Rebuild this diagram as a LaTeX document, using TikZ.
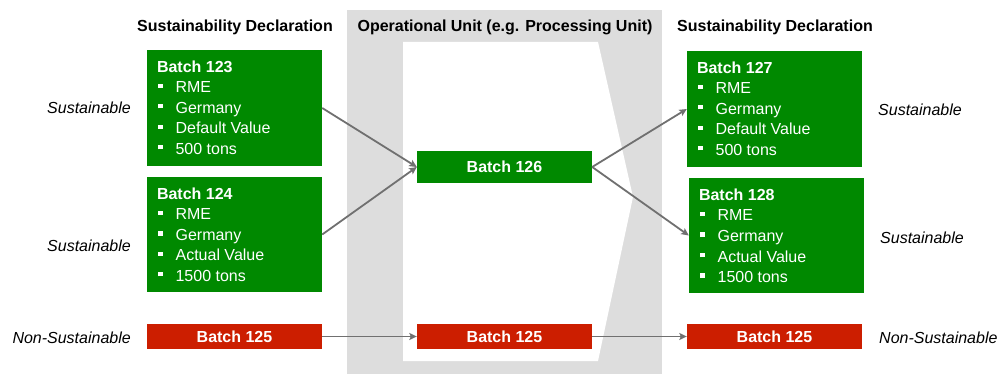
\documentclass[tikz,border=0pt]{standalone}
\usepackage{fontspec}
\setmainfont{Liberation Sans}
\usetikzlibrary{arrows.meta,calc}
\definecolor{bgreen}{RGB}{0,137,0}
\definecolor{bred}{RGB}{204,30,0}
\definecolor{panel}{RGB}{221,221,221}
\definecolor{arr}{RGB}{112,112,112}
\newcommand{\bul}[1]{\hspace*{1.3pt}\rule[5pt]{4.3pt}{4.3pt}\hspace*{13pt}#1}
\tikzset{
 gbox/.style={fill=bgreen, minimum width=175pt, inner sep=0pt, draw=none},
 cbox/.style={minimum width=175pt, inner sep=0pt, text=white, font=\bfseries\fontsize{16}{19}\selectfont},
 head/.style={font=\bfseries\fontsize{16}{19}\selectfont, anchor=base, inner sep=0pt},
 lab/.style={font=\itshape\fontsize{16}{19}\selectfont, inner sep=0pt},
 boxtext/.style={anchor=base west, inner sep=0pt, text=white, font=\fontsize{16}{20.5}\selectfont},
 flow/.style={draw=arr, line width=1.8pt, -{Stealth[length=7.5pt,width=7pt,inset=1.5pt]}}
}
\begin{document}
\begin{tikzpicture}[x=1pt,y=-1pt]
\useasboundingbox (0,0) rectangle (998,374);
% operational unit panel
\fill[panel] (347,10) rectangle (662,374);
\fill[white] (403,42) -- (598,42) -- (633,197) -- (598,361) -- (403,361) -- cycle;
% headings
\node[head] (hl) at (235,31.8) {Sustainability Declaration};
\node[head] (hm) at (505,31.8) {Operational Unit (e.g. Processing Unit)};
\node[head] (hr) at (775,31.8) {Sustainability Declaration};
% left boxes
\node[gbox, minimum height=116pt] (b123) at (234.5,108) {};
\node[gbox, minimum height=115pt] (b124) at (234.5,234.5) {};
\node[cbox, fill=bred, minimum height=25pt] (b125l) at (234.5,336.5) {Batch 125};
% middle
\node[cbox, fill=bgreen, minimum height=32pt] (b126) at (504.5,167) {Batch 126};
\node[cbox, fill=bred, minimum height=25pt] (b125m) at (504.5,336.5) {Batch 125};
% right boxes
\node[gbox, minimum height=116pt] (b127) at (774.5,109) {};
\node[gbox, minimum height=115pt] (b128) at (776.5,235.5) {};
\node[cbox, fill=bred, minimum height=25pt] (b125r) at (774.5,336.5) {Batch 125};
% box texts
\node[boxtext] (t123) at ($(b123.north west)+(10,22.7)$) {\parbox[t]{160pt}{\textbf{Batch 123}\\\bul{RME}\\\bul{Germany}\\\bul{Default Value}\\\bul{500 tons}}};
\node[boxtext] (t124) at ($(b124.north west)+(10,22.7)$) {\parbox[t]{160pt}{\textbf{Batch 124}\\\bul{RME}\\\bul{Germany}\\\bul{Actual Value}\\\bul{1500 tons}}};
\node[boxtext] (t127) at ($(b127.north west)+(10,22.7)$) {\parbox[t]{160pt}{\textbf{Batch 127}\\\bul{RME}\\\bul{Germany}\\\bul{Default Value}\\\bul{500 tons}}};
\node[boxtext] (t128) at ($(b128.north west)+(10,22.7)$) {\parbox[t]{160pt}{\textbf{Batch 128}\\\bul{RME}\\\bul{Germany}\\\bul{Actual Value}\\\bul{1500 tons}}};
% side labels
\node[lab, anchor=base east] (l1) at (131,114) {Sustainable};
\node[lab, anchor=base east] (l2) at (131,251) {Sustainable};
\node[lab, anchor=base east] (l3) at (131,343) {Non-Sustainable};
\node[lab, anchor=base west] (r1) at (878,115.5) {Sustainable};
\node[lab, anchor=base west] (r2) at (880,243) {Sustainable};
\node[lab, anchor=base west] (r3) at (879,343) {Non-Sustainable};
% connectors
\draw[flow] (b123.east) -- (b126.west);
\draw[flow] (b124.east) -- (b126.west);
\draw[flow] (b126.east) -- (b127.west);
\draw[flow] (b126.east) -- (b128.west);
\draw[flow] (b125l.east) -- (b125m.west);
\draw[flow] (b125m.east) -- (b125r.west);
\end{tikzpicture}
\end{document}
